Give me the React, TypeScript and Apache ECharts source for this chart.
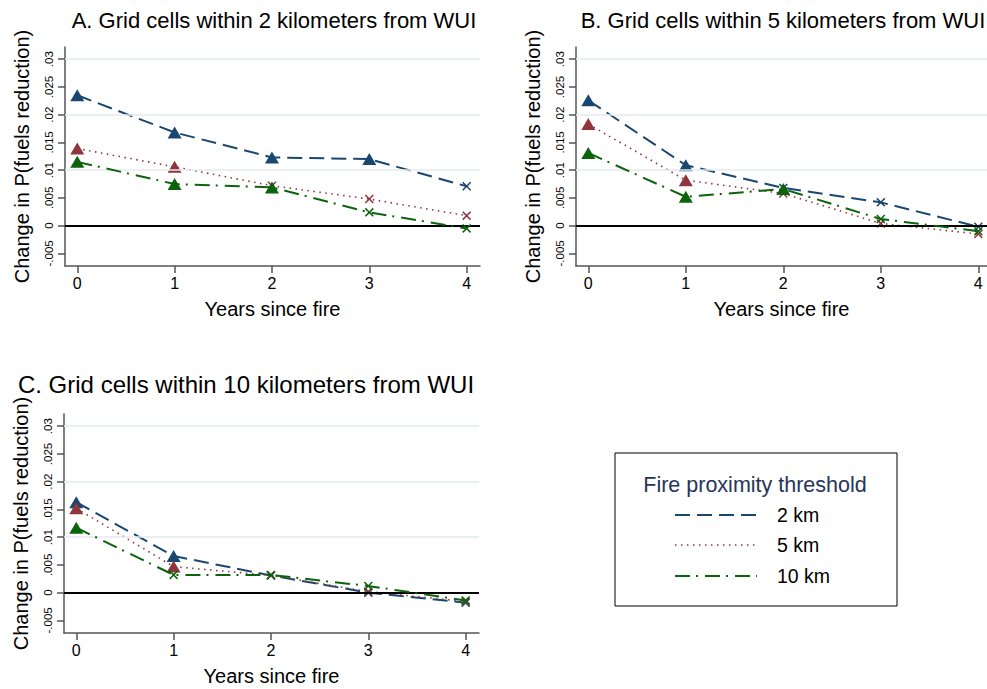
import React, { useEffect, useRef } from "react";
import * as echarts from "echarts";

const years = [0, 1, 2, 3, 4];
const xTickLabels = ["0", "1", "2", "3", "4"];
const yTickValues = [-0.005, 0, 0.005, 0.01, 0.015, 0.02, 0.025, 0.03];
const yTickLabels = ["-.005", "0", ".005", ".01", ".015", ".02", ".025", ".03"];
const gridValues = [0.01, 0.02, 0.03];

const seriesNames = ["2 km", "5 km", "10 km"];
const panelTitles = [
  "A. Grid cells within 2 kilometers from WUI",
  "B. Grid cells within 5 kilometers from WUI",
  "C. Grid cells within 10 kilometers from WUI",
];

// Panel A
const a2km = [0.0235, 0.0168, 0.0123, 0.012, 0.0071];
const a5km = [0.0139, 0.0106, 0.0072, 0.0048, 0.0018];
const a10km = [0.0115, 0.0075, 0.0069, 0.0024, -0.0005];
const a2kmSig = [true, true, true, true, false];
const a5kmSig = [true, true, false, false, false];
const a10kmSig = [true, true, true, false, false];

// Panel B
const b2km = [0.0226, 0.0109, 0.0068, 0.0042, -0.0002];
const b5km = [0.0183, 0.0082, 0.0058, 0.0004, -0.0015];
const b10km = [0.0131, 0.0052, 0.0066, 0.0012, -0.001];
const b2kmSig = [true, true, false, false, false];
const b5kmSig = [true, true, false, false, false];
const b10kmSig = [true, true, true, false, false];

// Panel C
const c2km = [0.0163, 0.0066, 0.0031, 0.0, -0.0018];
const c5km = [0.0152, 0.0047, 0.0031, 0.0002, -0.0016];
const c10km = [0.0117, 0.0032, 0.0032, 0.0012, -0.0014];
const c2kmSig = [true, true, false, false, false];
const c5kmSig = [true, true, false, false, false];
const c10kmSig = [true, false, false, false, false];

const panelValues = [
  [a2km, a5km, a10km],
  [b2km, b5km, b10km],
  [c2km, c5km, c10km],
];
const panelSig = [
  [a2kmSig, a5kmSig, a10kmSig],
  [b2kmSig, b5kmSig, b10kmSig],
  [c2kmSig, c5kmSig, c10kmSig],
];

const colors = ["#1a476f", "#90353b", "#0b640b"];
const dashes: number[][] = [
  [15, 7],
  [1.5, 4.5],
  [15, 6, 2, 7],
];
const widths = [2, 1.6, 2];

const FONT = "'Liberation Sans', Arial, Helvetica, sans-serif";
const XSYM =
  "path://M0,1.2L1.2,0L5,3.8L8.8,0L10,1.2L6.2,5L10,8.8L8.8,10L5,6.2L1.2,10L0,8.8L3.8,5Z";

const grids = [
  { left: 65, top: 47, width: 415, height: 219, xMax: 4.137 },
  { left: 576, top: 47, width: 411, height: 219, xMax: 4.089 },
  { left: 64, top: 414, width: 415, height: 219, xMax: 4.137 },
];
const titlePos = [
  { x: 274, y: 9, size: 22 },
  { x: 246, y: 372, size: 24 },
  { x: 783, y: 9, size: 22 },
];
const titleOrder = [0, 2, 1];

function yFmt(v: number) {
  const i = yTickValues.findIndex((t) => Math.abs(t - v) < 1e-9);
  return i >= 0 ? yTickLabels[i] : "";
}
function xFmt(v: number) {
  const i = years.findIndex((t) => Math.abs(t - v) < 1e-9);
  return i >= 0 ? xTickLabels[i] : "";
}

export default function App() {
  const ref = useRef<HTMLDivElement>(null);
  useEffect(() => {
    document.body.style.margin = "0";
    if (!ref.current) return;
    const chart = echarts.init(ref.current, null, { renderer: "svg" });

    const axisLineStyle = { color: "#555", width: 1.5 };
    const xAxes = grids.map((g, p) => ({
      type: "value",
      gridIndex: p,
      min: -0.126,
      max: g.xMax,
      axisLine: { show: true, onZero: false, lineStyle: axisLineStyle },
      axisTick: { show: true, length: 7, customValues: years, lineStyle: axisLineStyle },
      axisLabel: {
        customValues: years,
        formatter: xFmt,
        fontSize: 16,
        margin: 9,
        color: "#000",
        fontFamily: FONT,
      },
      splitLine: { show: false },
      name: "Years since fire",
      nameLocation: "middle",
      nameGap: 33,
      nameTextStyle: { fontSize: 20, color: "#000", fontFamily: FONT },
    }));
    const yAxes = grids.map((g, p) => ({
      type: "value",
      gridIndex: p,
      min: -0.00727,
      max: 0.0322,
      axisLine: { show: true, onZero: false, lineStyle: axisLineStyle },
      axisTick: { show: true, length: 7, customValues: yTickValues, lineStyle: axisLineStyle },
      axisLabel: {
        customValues: yTickValues,
        formatter: yFmt,
        rotate: 90,
        fontSize: 11.5,
        margin: 10,
        color: "#000",
        fontFamily: FONT,
      },
      splitLine: { show: false },
      name: "Change in P(fuels reduction)",
      nameLocation: "middle",
      nameGap: 33,
      nameTextStyle: { fontSize: 20, color: "#000", fontFamily: FONT },
    }));

    const series: any[] = [];
    grids.forEach((g, p) => {
      series.push({
        type: "line",
        xAxisIndex: p,
        yAxisIndex: p,
        data: [],
        silent: true,
        z: 1,
        markLine: {
          silent: true,
          symbol: ["none", "none"],
          label: { show: false },
          data: [
            ...gridValues.map((v) => ({
              yAxis: v,
              lineStyle: { color: "#e3ebee", width: 1.5, type: "solid" },
            })),
            { yAxis: 0, lineStyle: { color: "#000", width: 2, type: "solid" } },
          ],
        },
      });
      seriesNames.forEach((name, s) => {
        const vals = panelValues[p][s];
        const sig = panelSig[p][s];
        series.push({
          type: "line",
          name,
          xAxisIndex: p,
          yAxisIndex: p,
          z: 3 + s,
          data: years.map((x, i) => ({
            value: [x, vals[i]],
            symbol: sig[i] ? "triangle" : XSYM,
            symbolSize: sig[i] ? [14, 12] : 9,
          })),
          lineStyle: { color: colors[s], width: widths[s], type: dashes[s], cap: "butt" },
          itemStyle: { color: colors[s] },
        });
      });
    });

    const legendYs = [515, 545, 576];
    const graphic: any[] = [
      {
        type: "rect",
        shape: { x: 615, y: 453, width: 282, height: 153 },
        style: { fill: "#fff", stroke: "#000", lineWidth: 1 },
      },
      {
        type: "text",
        x: 755,
        y: 485,
        style: {
          text: "Fire proximity threshold",
          fill: "#26355a",
          fontSize: 21.5,
          fontFamily: FONT,
          align: "center",
          verticalAlign: "middle",
        },
      },
    ];
    seriesNames.forEach((name, s) => {
      graphic.push({
        type: "line",
        shape: { x1: 675, y1: legendYs[s], x2: 757, y2: legendYs[s] },
        style: { stroke: colors[s], lineWidth: widths[s], lineDash: dashes[s] },
      });
      graphic.push({
        type: "text",
        x: 777,
        y: legendYs[s],
        style: {
          text: name,
          fill: "#000",
          fontSize: 19.5,
          fontFamily: FONT,
          align: "left",
          verticalAlign: "middle",
        },
      });
    });

    chart.setOption({
      animation: false,
      backgroundColor: "#fff",
      title: panelTitles.map((t, p) => {
        const pos = titlePos[titleOrder[p]];
        return {
          text: t,
          left: pos.x,
          top: pos.y,
          textAlign: "center",
          padding: 0,
          textStyle: {
            fontSize: pos.size,
            fontWeight: "normal",
            color: "#000",
            fontFamily: FONT,
          },
        };
      }),
      grid: grids.map((g) => ({ left: g.left, top: g.top, width: g.width, height: g.height })),
      xAxis: xAxes,
      yAxis: yAxes,
      series,
      graphic,
    });
    return () => chart.dispose();
  }, []);
  return <div ref={ref} style={{ width: 987, height: 689 }} />;
}
